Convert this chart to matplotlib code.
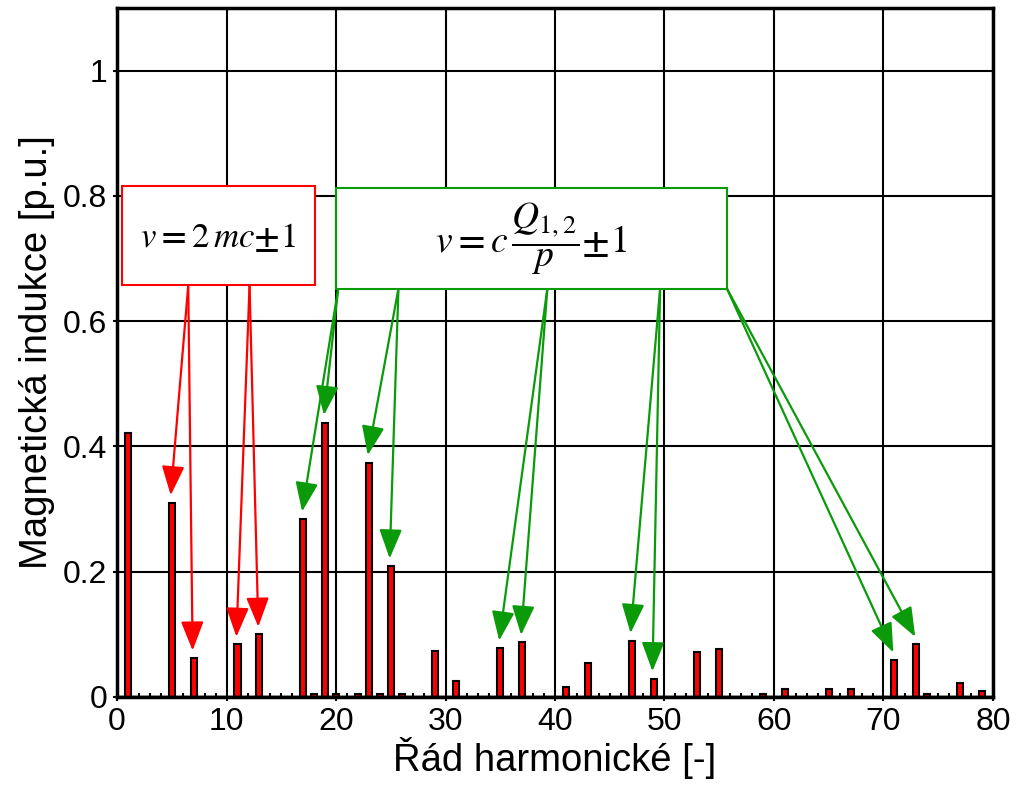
import matplotlib
matplotlib.use("Agg")
import matplotlib.pyplot as plt
from matplotlib.ticker import MultipleLocator
from matplotlib.patches import Rectangle

plt.rcParams['font.family'] = ['Liberation Sans', 'DejaVu Sans']
plt.rcParams['mathtext.fontset'] = 'stix'

# harmonic orders and amplitudes [p.u.]
harmonics = [1, 5, 7, 11, 13, 17, 18, 19, 20, 22, 23, 24, 25, 26, 29, 31, 35, 37,
             41, 43, 47, 49, 53, 55, 59, 61, 65, 67, 71, 73, 74, 77, 79]
amplitudes = [0.422, 0.31, 0.062, 0.084, 0.100, 0.284, 0.005, 0.438, 0.005, 0.004,
              0.374, 0.005, 0.209, 0.004, 0.074, 0.026, 0.078, 0.087,
              0.016, 0.055, 0.090, 0.029, 0.071, 0.077, 0.004, 0.013, 0.013, 0.013,
              0.059, 0.084, 0.004, 0.022, 0.010]

# which harmonics the arrows of each formula box point to
red_targets = [[5, 7], [11, 13]]
green_targets = [[17, 19], [23, 25], [35, 37], [47, 49], [71, 73]]

amp = dict(zip(harmonics, amplitudes))

fig = plt.figure(figsize=(10.18, 7.87), dpi=100)
ax = fig.add_axes([0.115, 0.1144, 0.8604, 0.8756])

ax.bar(harmonics, amplitudes, width=0.55, color='#ff0000', edgecolor='black',
       linewidth=1.5, zorder=3)
ax.axhline(0, color='black', lw=2.5, zorder=4)

ax.set_xlim(0, 80)
ax.set_ylim(0, 1.1)
ax.xaxis.set_major_locator(MultipleLocator(10))
ax.xaxis.set_minor_locator(MultipleLocator(1))
ax.set_yticks([0, 0.2, 0.4, 0.6, 0.8, 1])
ax.set_yticklabels(['0', '0.2', '0.4', '0.6', '0.8', '1'])
ax.grid(True, which='major', color='black', lw=1.5, zorder=1)
ax.tick_params(which='major', direction='out', length=3, width=1.5, labelsize=23, pad=4)
ax.tick_params(which='minor', direction='in', length=3, width=1.5)
ax.tick_params(axis='y', which='minor', left=False)
for s in ax.spines.values():
    s.set_linewidth(2.5)
    s.set_zorder(5)

ax.set_xlabel('Řád harmonické [-]', fontsize=27.5, labelpad=0)
ax.set_ylabel('Magnetická indukce [p.u.]', fontsize=27.5, labelpad=6)

red = '#ff0000'
green = '#0a9a0a'
ax.add_patch(Rectangle((0.46, 0.657), 17.6, 0.159, fc='white', ec=red, lw=1.5, zorder=6))
ax.add_patch(Rectangle((20.0, 0.652), 35.7, 0.160, fc='white', ec=green, lw=1.5, zorder=6))
ax.text(9.2, 0.733, r'$v\mathbf{=}2\,mc\mathbf{\pm}1$', fontsize=25, ha='center', va='center',
        zorder=7)
ax.text(37.8, 0.731, r'$v\mathbf{=}c\,\dfrac{Q_{1,2}}{p}\mathbf{\pm}1$', fontsize=27,
        ha='center', va='center', zorder=7)

red_starts = [6.5, 12.1]
green_starts = [20.2, 25.7, 39.3, 49.6, 55.7]
for starts, targets, col, y0 in [(red_starts, red_targets, red, 0.657),
                                 (green_starts, green_targets, green, 0.652)]:
    for x0, pair in zip(starts, targets):
        for h in pair:
            ax.annotate('', xy=(h - 0.1, amp[h] + 0.012), xytext=(x0, y0),
                        arrowprops=dict(arrowstyle='-|>,head_length=0.9,head_width=0.35',
                                        color=col, lw=1.6, shrinkA=0, shrinkB=0,
                                        mutation_scale=20), zorder=5)

fig.savefig('out.png', dpi=100)
